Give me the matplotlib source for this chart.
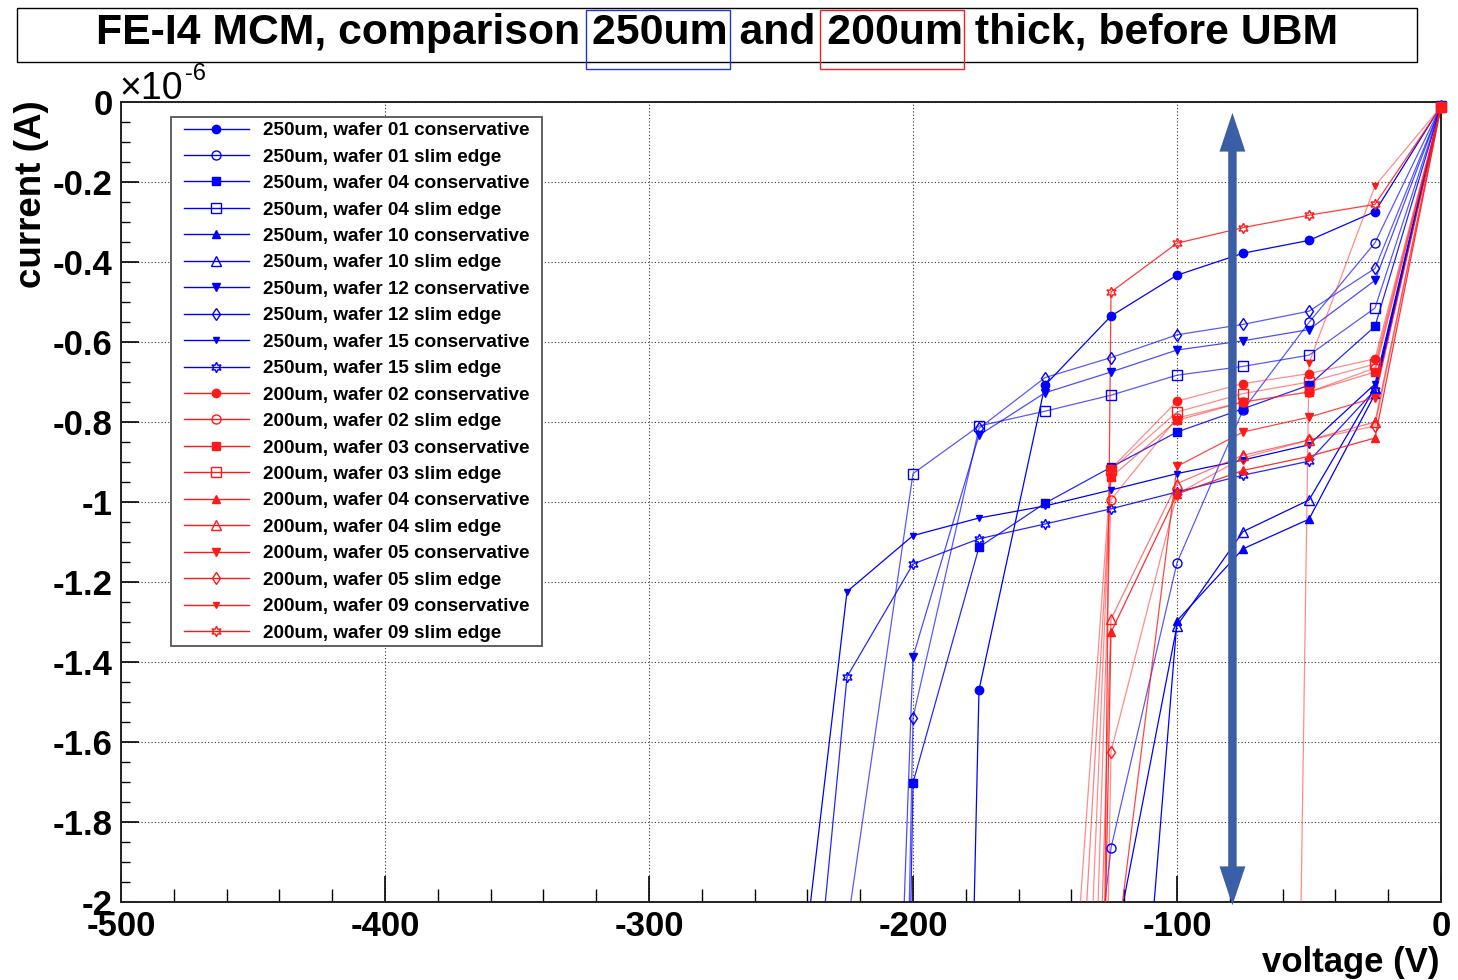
import matplotlib
matplotlib.use("Agg")
import matplotlib.pyplot as plt
import matplotlib.patches as mpatches
from matplotlib.lines import Line2D
from matplotlib.ticker import MultipleLocator, FixedLocator, FuncFormatter
import numpy as np

plt.rcParams["font.family"] = ["Liberation Sans", "DejaVu Sans"]
plt.rcParams["axes.unicode_minus"] = False

# Bias voltage steps (V)
VOLTAGE = [0, -25, -50, -75, -100, -125, -150, -175, -200, -225, -250]

# Leakage current in units of 1e-6 A, 250 um thick sensors
w250_01_cons = [-0.010, -0.274, -0.346, -0.378, -0.433, -0.535, -0.708, -1.470, -8.80]
w250_01_slim = [-0.010, -0.352, -0.551, -0.770, -1.152, -1.865, -3.34]
w250_04_cons = [-0.010, -0.561, -0.708, -0.767, -0.825, -0.913, -1.003, -1.113, -1.702, -11.0]
w250_04_slim = [-0.010, -0.515, -0.633, -0.661, -0.683, -0.733, -0.773, -0.810, -0.929, -2.065]
w250_10_cons = [-0.010, -0.730, -1.043, -1.117, -1.297, -3.33]
w250_10_slim = [-0.010, -0.715, -0.995, -1.074, -1.309, -2.16]
w250_12_cons = [-0.010, -0.446, -0.569, -0.597, -0.620, -0.675, -0.727, -0.833, -1.387, -6.0]
w250_12_slim = [-0.010, -0.416, -0.523, -0.556, -0.582, -0.639, -0.689, -0.816, -1.539, -9.8]
w250_15_cons = [-0.010, -0.705, -0.857, -0.895, -0.929, -0.970, -1.010, -1.040, -1.084, -1.224, -2.63]
w250_15_slim = [-0.010, -0.720, -0.898, -0.933, -0.975, -1.017, -1.055, -1.092, -1.155, -1.437, -3.15]

# Leakage current in units of 1e-6 A, 200 um thick sensors
w200_02_cons = [-0.012, -0.642, -0.679, -0.704, -0.748, -0.917, -4.90]
w200_02_slim = [-0.012, -0.665, -0.725, -0.750, -0.790, -0.994, -6.13]
w200_03_cons = [-0.012, -0.675, -0.725, -0.750, -0.796, -0.938, -3.83]
w200_03_slim = [-0.012, -0.655, -0.700, -0.729, -0.775, -0.920, -3.25]
w200_04_cons = [-0.012, -0.840, -0.886, -0.921, -0.980, -1.326, -9.75]
w200_04_slim = [-0.012, -0.800, -0.845, -0.883, -0.954, -1.293, -6.66]
w200_05_cons = [-0.012, -0.739, -0.788, -0.825, -0.911, -2.23]
w200_05_slim = [-0.012, -0.810, -0.845, -0.890, -0.980, -1.624, -11.0]
w200_09_cons = [-0.012, -0.210, -0.653, -11.9]
w200_09_slim = [-0.012, -0.256, -0.283, -0.314, -0.353, -0.475, -17.1]

LABELS = [
    "250um, wafer 01 conservative", "250um, wafer 01 slim edge",
    "250um, wafer 04 conservative", "250um, wafer 04 slim edge",
    "250um, wafer 10 conservative", "250um, wafer 10 slim edge",
    "250um, wafer 12 conservative", "250um, wafer 12 slim edge",
    "250um, wafer 15 conservative", "250um, wafer 15 slim edge",
    "200um, wafer 02 conservative", "200um, wafer 02 slim edge",
    "200um, wafer 03 conservative", "200um, wafer 03 slim edge",
    "200um, wafer 04 conservative", "200um, wafer 04 slim edge",
    "200um, wafer 05 conservative", "200um, wafer 05 slim edge",
    "200um, wafer 09 conservative", "200um, wafer 09 slim edge",
]
CURRENTS = [
    w250_01_cons, w250_01_slim, w250_04_cons, w250_04_slim, w250_10_cons,
    w250_10_slim, w250_12_cons, w250_12_slim, w250_15_cons, w250_15_slim,
    w200_02_cons, w200_02_slim, w200_03_cons, w200_03_slim, w200_04_cons,
    w200_04_slim, w200_05_cons, w200_05_slim, w200_09_cons, w200_09_slim,
]

X_TICKS = [-500, -400, -300, -200, -100, 0]
Y_TICKS = [0, -0.2, -0.4, -0.6, -0.8, -1, -1.2, -1.4, -1.6, -1.8, -2]

# Marker style per wafer type: (marker, filled, size)
MARKERS = [
    ("o", True, 6.0), ("o", False, 6.5), ("s", True, 5.8), ("s", False, 6.5),
    ("^", True, 5.5), ("^", False, 6.5), ("v", True, 6.0), ("d", False, 6.0),
    ("v", True, 4.0), ((6, 1, 0), False, 7.5),
]
BLUE = "#0000ff"
RED = "#ff1a1a"
LINE_ALPHA = [1.0, 0.65, 0.85, 0.65, 1.0, 1.0, 0.7, 0.65, 1.0, 0.85,
              0.5, 0.5, 0.55, 0.5, 0.9, 0.6, 0.8, 0.5, 0.5, 0.85]

W, H = 1458, 980
fig = plt.figure(figsize=(W / 100, H / 100), dpi=100)
ax = fig.add_axes([121 / W, 1 - 902 / H, (1441 - 121) / W, (902 - 102) / H])

ax.set_xlim(-500, 0)
ax.set_ylim(-2, 0)

handles = []
for i, (label, cur) in enumerate(zip(LABELS, CURRENTS)):
    color = BLUE if i < 10 else RED
    mk, filled, ms = MARKERS[i % 10]
    v = np.array(VOLTAGE[:len(cur)], dtype=float)
    c = np.array(cur, dtype=float)
    ax.plot(v, c, color=color, lw=0.9, alpha=LINE_ALPHA[i], zorder=3)
    inside = (c >= -2.0) & (v >= -500)
    ax.plot(v[inside], c[inside], linestyle="none", marker=mk, markersize=ms,
            markerfacecolor=color if filled else "none", markeredgecolor=color,
            markeredgewidth=1.0, zorder=4, clip_on=False)
    handles.append(Line2D([], [], color=color, lw=1.0, alpha=1.0, marker=mk,
                          markersize=ms, markerfacecolor=color if filled else "none",
                          markeredgecolor=color, markeredgewidth=1.0))

# Axes styling
for sp in ax.spines.values():
    sp.set_linewidth(1.4)
    sp.set_color("#222222")
ax.xaxis.set_major_locator(FixedLocator(X_TICKS))
ax.xaxis.set_minor_locator(MultipleLocator(20))
ax.yaxis.set_major_locator(FixedLocator(Y_TICKS))
ax.yaxis.set_minor_locator(MultipleLocator(0.05))
fmt = FuncFormatter(lambda val, pos: ("%g" % round(val, 3)) if abs(val) > 1e-9 else "0")
ax.xaxis.set_major_formatter(fmt)
ax.yaxis.set_major_formatter(fmt)
ax.tick_params(axis="x", which="major", direction="in", length=19, width=1.2, pad=6,
               labelsize=25, top=False)
ax.tick_params(axis="x", which="minor", direction="in", length=9.5, width=1.0, top=False)
ax.tick_params(axis="y", which="major", direction="in", length=13, width=1.2, pad=6,
               labelsize=25, right=False)
ax.tick_params(axis="y", which="minor", direction="in", length=6.5, width=1.0, right=False)
for lab in ax.get_xticklabels() + ax.get_yticklabels():
    lab.set_fontweight("bold")
ax.grid(True, which="major", linestyle=(0, (1, 2)), color="#333333", lw=0.8)
ax.set_axisbelow(True)

# Legend: framed box drawn separately, entries placed inside it
legend_box = mpatches.Rectangle((171 / W, 1 - 646 / H), (542 - 171) / W, (646 - 117) / H,
                                transform=fig.transFigure, facecolor="white",
                                edgecolor="#555555", lw=1.3, zorder=5.5, clip_on=False)
ax.add_patch(legend_box)
leg = ax.legend(handles, LABELS, loc="upper left",
                bbox_to_anchor=(184 / W, 1 - 122 / H), bbox_transform=fig.transFigure,
                prop={"weight": "bold", "size": 13.6}, frameon=False,
                handlelength=3.44, handletextpad=0.74, labelspacing=0.488,
                borderpad=0.0, borderaxespad=0)
leg.set_zorder(6)

# Double-headed arrow marking the operating range
ARROW_V = -79.0
ARROW_TOP = -0.027
ARROW_BOTTOM = -2.008
ARROW_MID = -1.0
for end in (ARROW_TOP, ARROW_BOTTOM):
    arr = mpatches.FancyArrow(ARROW_V, ARROW_MID, 0, end - ARROW_MID, width=3.2,
                              head_width=9.8, head_length=0.097,
                              length_includes_head=True, color="#3b5ea6",
                              lw=0, zorder=7, clip_on=False)
    ax.add_patch(arr)

# Axis titles
fig.text(32 / W, 1 - 100 / H, "current (A)", rotation=90, ha="center", va="top",
         fontsize=26.5, fontweight="bold")
fig.text(1440 / W, 1 - 962 / H, "voltage (V)", ha="right", va="center",
         fontsize=25, fontweight="bold")
fig.text(119 / W, 1 - 99 / H, "\u00d710", ha="left", va="baseline", fontsize=27)
fig.text(185 / W, 1 - 80 / H, "-6", ha="left", va="baseline", fontsize=17)

# Title with framed thickness labels
fig.patches.append(mpatches.Rectangle((17 / W, 1 - 62 / H), 1400 / W, 54 / H,
                                      transform=fig.transFigure, fill=False,
                                      edgecolor="black", lw=1.0))
fig.text(717 / W, 1 - 33 / H, "FE-I4 MCM, comparison 250um and 200um thick, before UBM",
         ha="center", va="center", fontsize=30.8, fontweight="bold")
fig.patches.append(mpatches.Rectangle((586 / W, 1 - 69 / H), 144 / W, 59 / H,
                                      transform=fig.transFigure, fill=False,
                                      edgecolor="#2233dd", lw=1.0))
fig.patches.append(mpatches.Rectangle((820 / W, 1 - 69 / H), 144 / W, 59 / H,
                                      transform=fig.transFigure, fill=False,
                                      edgecolor="#ee2222", lw=1.0))

fig.savefig("out.png", dpi=100)
